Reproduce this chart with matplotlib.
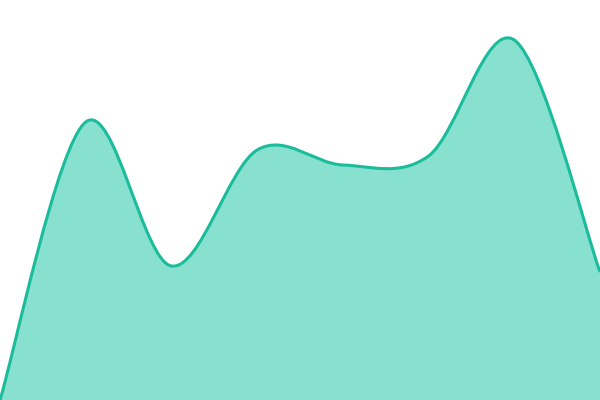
import numpy as np
import matplotlib
matplotlib.use("Agg")
import matplotlib.pyplot as plt
from matplotlib.path import Path
from matplotlib.patches import PathPatch

# data
xs = np.arange(8)
vals = np.array([0, 278, 134, 250, 235, 244, 360, 128])

line_col = "#1abc9c"
fill_col = "#88e0cf"

# catmull-rom segments as cubic bezier control points
pts = np.column_stack((xs, vals)).astype(float)
ext = np.vstack((pts[0], pts, pts[-1]))
verts = [tuple(pts[0])]
codes = [Path.MOVETO]
for i in range(len(pts) - 1):
    p0, p1, p2, p3 = ext[i], ext[i + 1], ext[i + 2], ext[i + 3]
    c1 = p1 + (p2 - p0) / 6
    c2 = p2 - (p3 - p1) / 6
    verts += [tuple(c1), tuple(c2), tuple(p2)]
    codes += [Path.CURVE4] * 3

fig = plt.figure(figsize=(6, 4), dpi=100)
ax = fig.add_axes([0, 0, 1, 1])

area = Path(verts + [(xs[-1], 0), (xs[0], 0), verts[0]],
            codes + [Path.LINETO, Path.LINETO, Path.CLOSEPOLY])
ax.add_patch(PathPatch(area, facecolor=fill_col, edgecolor="none"))
ax.add_patch(PathPatch(Path(verts, codes), facecolor="none",
                       edgecolor=line_col, lw=2.2))

ax.set_xlim(xs[0], xs[-1])
ax.set_ylim(0, 400)
ax.axis("off")
fig.savefig("out.png", dpi=100)
